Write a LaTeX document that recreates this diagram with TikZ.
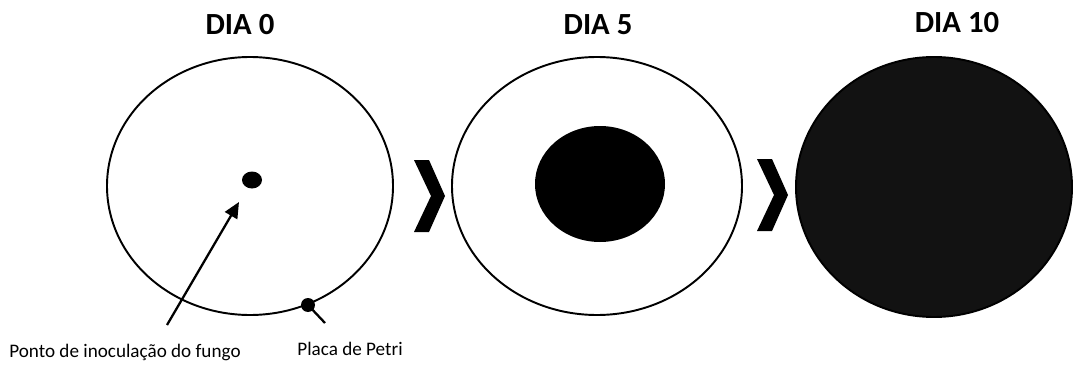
\documentclass[tikz,border=0pt]{standalone}
\usepackage{fontspec}
\setmainfont{Carlito}
\usetikzlibrary{arrows.meta}
\tikzset{
  title/.style={font=\bfseries\fontsize{17.5}{20}\selectfont},
  caption/.style={font=\fontsize{10.9}{13}\selectfont,inner sep=0pt},
  plate/.style={line width=1.1pt},
  dot/.style={fill=black,inner sep=0pt,circle,minimum size=14*0.02cm},
}
\begin{document}
\begin{tikzpicture}[x=0.02cm,y=-0.02cm]
\useasboundingbox (0,0) rectangle (1073,365);
% Titles
\node[title] (t0) at (240,25) {DIA 0};
\node[title] (t5) at (598,25) {DIA 5};
\node[title] (t10) at (957,23) {DIA 10};
% Day 0: empty plate with inoculation point
\draw[plate] (250,186) ellipse [x radius=143, y radius=129];
\fill (252,180) ellipse [x radius=10, y radius=8.5];
\node[dot] (rim) at (308,305) {};
% Day 5: half grown
\draw[plate] (597,186) ellipse [x radius=145, y radius=129];
\fill (600,184) ellipse [x radius=65, y radius=58];
% Day 10: fully grown
\draw[plate,fill=black!93] (934,187) ellipse [x radius=138, y radius=130];
% Chevrons between the days
\foreach \cx/\cy in {414/196, 757/195}
  \fill (\cx,\cy-36) -- ++(15,0) -- ++(16,36) -- ++(-16,36) -- ++(-15,0) -- ++(17,-36) -- cycle;
% Labels
\node[caption,anchor=base] (ponto) at (125,357) {Ponto de inoculação do fungo};
\node[caption,anchor=base] (placa) at (350,355) {Placa de Petri};
\coordinate (tail) at (167,325);
\coordinate (tip) at (239,202);
\coordinate (placaend) at (325,323);
\draw[line width=1.3pt,-{Triangle[length=9pt,width=8pt]}] (tail) -- (tip);
\draw[line width=1.3pt] (rim.center) -- (placaend);
\end{tikzpicture}
\end{document}
